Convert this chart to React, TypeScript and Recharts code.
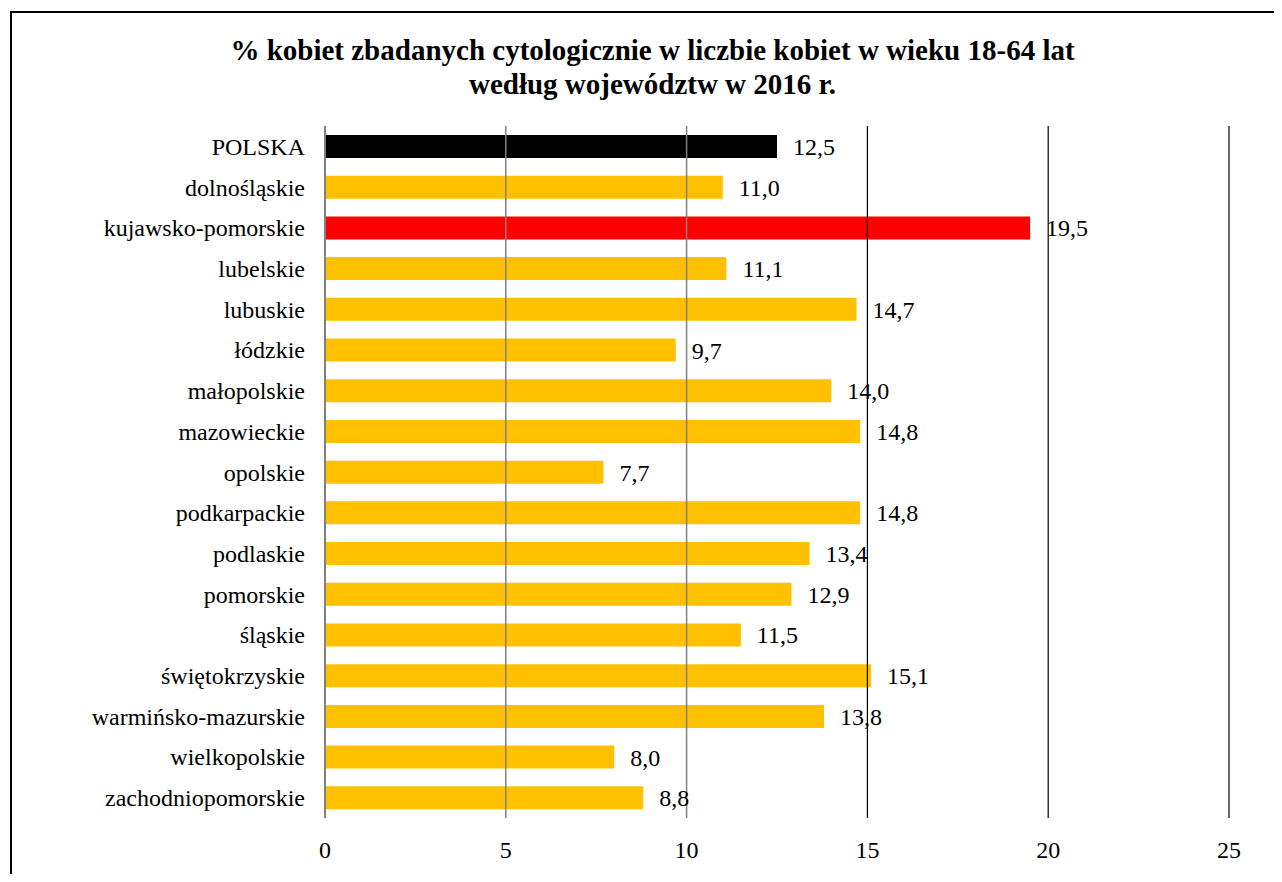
import React from 'react';
import { BarChart, Bar, XAxis, YAxis, Cell, LabelList, ReferenceLine } from 'recharts';

// Województwa i odsetek kobiet zbadanych cytologicznie (2016)
const regions = [
    'POLSKA',
    'dolnośląskie',
    'kujawsko-pomorskie',
    'lubelskie',
    'lubuskie',
    'łódzkie',
    'małopolskie',
    'mazowieckie',
    'opolskie',
    'podkarpackie',
    'podlaskie',
    'pomorskie',
    'śląskie',
    'świętokrzyskie',
    'warmińsko-mazurskie',
    'wielkopolskie',
    'zachodniopomorskie',
];

const percents = [12.5, 11.0, 19.5, 11.1, 14.7, 9.7, 14.0, 14.8, 7.7, 14.8, 13.4, 12.9, 11.5, 15.1, 13.8, 8.0, 8.8];

const xTicks = [0, 5, 10, 15, 20, 25];
const greyLines = [5, 10];
const blackLines = [15, 20, 25];

const FONT = 'Liberation Serif';

const barColor = (name: string) => {
    if (name === 'POLSKA') return '#000000';
    if (name === 'kujawsko-pomorskie') return '#ff0000';
    return '#ffc000';
};

const data = regions.map((name, i) => ({ name, value: percents[i] }));

const fmt = (v: unknown) => Number(v).toFixed(1).replace('.', ',');

export default function App() {
    return (
        <div style={{ position: 'relative', width: 1282, height: 882, margin: -8, overflow: 'hidden', background: '#fff', fontFamily: FONT }}>
            <div
                style={{
                    position: 'absolute',
                    left: 10,
                    top: 11,
                    width: 1300,
                    height: 920,
                    border: '2px solid #000',
                    boxSizing: 'border-box',
                }}
            />
            <div
                style={{
                    position: 'absolute',
                    left: 0,
                    width: 1305,
                    top: 33,
                    textAlign: 'center',
                    fontFamily: FONT,
                    fontWeight: 'bold',
                    fontSize: 29,
                    lineHeight: '34px',
                    color: '#000',
                }}
            >
                <div>% kobiet zbadanych cytologicznie w liczbie kobiet w wieku 18-64 lat</div>
                <div>według województw w 2016 r.</div>
            </div>
            <div style={{ position: 'absolute', left: 0, top: 0 }}>
                <BarChart
                    width={1282}
                    height={882}
                    data={data}
                    layout="vertical"
                    margin={{ top: 126, right: 53, bottom: 34, left: 0 }}
                    barSize={23}
                >
                    <XAxis
                        type="number"
                        domain={[0, 25]}
                        ticks={xTicks}
                        axisLine={false}
                        tickLine={false}
                        tickSize={0}
                        tickMargin={23}
                        height={30}
                        tick={{ fill: '#000', fontSize: 24, fontFamily: FONT }}
                    />
                    <YAxis
                        type="category"
                        dataKey="name"
                        width={325}
                        axisLine={{ stroke: '#808080', strokeWidth: 2 }}
                        tickLine={false}
                        tickSize={0}
                        tickMargin={20}
                        interval={0}
                        tick={{ fill: '#000', fontSize: 24, fontFamily: FONT }}
                    />
                    {greyLines.map((x) => (
                        <ReferenceLine key={`g-${x}`} x={x} stroke="#808080" strokeWidth={1.5} />
                    ))}
                    {blackLines.map((x) => (
                        <ReferenceLine key={`b-${x}`} x={x} stroke="#000" strokeWidth={1.2} />
                    ))}
                    <Bar dataKey="value" isAnimationActive={false}>
                        {data.map((d, i) => (
                            <Cell key={`cell-${i}`} fill={barColor(d.name)} />
                        ))}
                        <LabelList
                            dataKey="value"
                            position="right"
                            offset={16}
                            formatter={fmt}
                            style={{ fill: '#000', fontSize: 24, fontFamily: FONT }}
                        />
                    </Bar>
                </BarChart>
            </div>
        </div>
    );
}
